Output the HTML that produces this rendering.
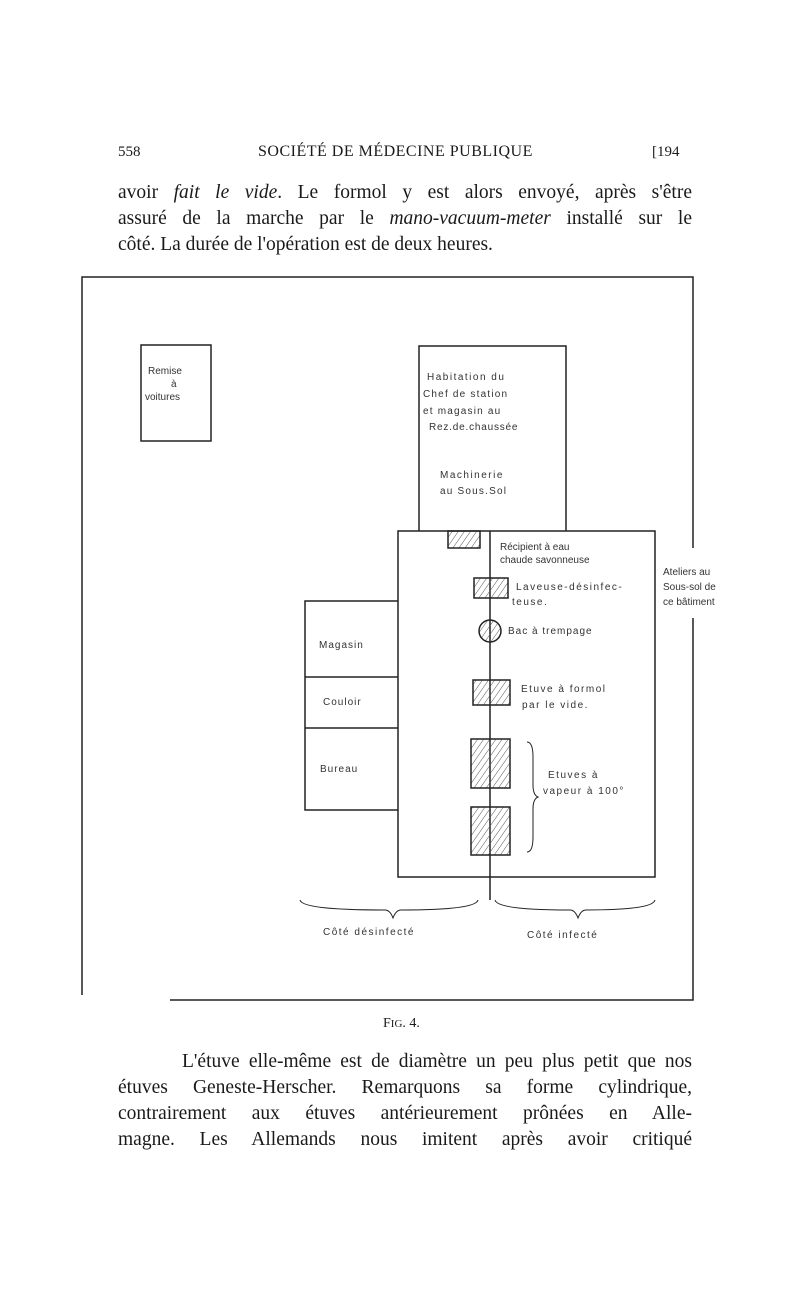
<!DOCTYPE html>
<html><head><meta charset="utf-8"><style>
html,body{margin:0;padding:0;background:#fff;}
body{width:800px;height:1304px;position:relative;overflow:hidden;font-family:"Liberation Serif",serif;color:#1a1a1a;}
.t{position:absolute;left:118px;width:574px;font-size:19.5px;line-height:26px;text-align:justify;text-align-last:justify;white-space:nowrap;}
.l{position:absolute;font-size:19.5px;}
svg{position:absolute;left:0;top:0;}
svg text{font-family:"Liberation Sans",sans-serif;font-size:10px;fill:#333;}
</style></head><body>
<div class="l" style="left:118px;top:144px;font-size:15px;">558</div>
<div class="l" style="left:258px;top:143px;font-size:16px;letter-spacing:0.5px;">SOCIÉTÉ DE MÉDECINE PUBLIQUE</div>
<div class="l" style="left:652px;top:144px;font-size:15px;">[194</div>
<div class="t" style="top:180px;">avoir <i>fait le vide</i>. Le formol y est alors envoyé, après s'être</div>
<div class="t" style="top:206px;">assuré de la marche par le <i>mano-vacuum-meter</i> installé sur le</div>
<div class="t" style="top:232px;text-align-last:left;">côté. La durée de l'opération est de deux heures.</div>
<svg width="800" height="1304" viewBox="0 0 800 1304">
<defs><pattern id="h" width="5" height="5" patternUnits="userSpaceOnUse" patternTransform="rotate(35)"><line x1="0" y1="0" x2="0" y2="5" stroke="#555" stroke-width="1"/></pattern></defs>
<g stroke="#222" fill="none" stroke-width="1.5">
<path d="M82 995 V277 H693 V548 M693 618 V1000 H170"/>
<rect x="141" y="345" width="70" height="96"/>
<path d="M419 531 V346 H566 V531"/>
<rect x="398" y="531" width="257" height="346"/>
<path d="M490 531 V900"/>
<path d="M398 601 H305 V810 H398 M305 677 H398 M305 728 H398"/>
<path d="M300 900 q2 10 85 10 q5 0 8 8 q3 -8 8 -8 q75 0 77 -10" stroke-width="1"/>
<path d="M495 900 q2 10 75 10 q5 0 8 8 q3 -8 8 -8 q67 0 69 -10" stroke-width="1"/>
<path d="M527 742 q6 0 6 15 v28 q0 10 5 12 q-5 2 -5 12 v28 q0 15 -6 15" stroke-width="1"/>
</g>
<g stroke="#222" stroke-width="1.5" fill="url(#h)">
<rect x="448" y="531" width="32" height="17"/>
<rect x="474" y="578" width="34" height="20"/>
<circle cx="490" cy="631" r="11"/>
<rect x="473" y="680" width="37" height="25"/>
<rect x="471" y="739" width="39" height="49"/>
<rect x="471" y="807" width="39" height="48"/>
</g>
<text x="148" y="374">Remise</text><text x="171" y="387">à</text><text x="145" y="400">voitures</text>
<text x="427" y="380" letter-spacing="1.5">Habitation du</text>
<text x="423" y="397" letter-spacing="1.2">Chef de station</text>
<text x="423" y="414" letter-spacing="1.2">et magasin au</text>
<text x="429" y="430" letter-spacing="0.8">Rez.de.chaussée</text>
<text x="440" y="478" letter-spacing="1.5">Machinerie</text>
<text x="440" y="494" letter-spacing="1.2">au Sous.Sol</text>
<text x="500" y="550">Récipient à eau</text>
<text x="500" y="563">chaude savonneuse</text>
<text x="516" y="590" letter-spacing="1.5">Laveuse-désinfec-</text>
<text x="512" y="605" letter-spacing="1.5">teuse.</text>
<text x="508" y="634" letter-spacing="1">Bac à trempage</text>
<text x="521" y="692" letter-spacing="1.5">Etuve à formol</text>
<text x="522" y="708" letter-spacing="1.5">par le vide.</text>
<text x="548" y="778" letter-spacing="1.5">Etuves à</text>
<text x="543" y="794" letter-spacing="1.5">vapeur à 100°</text>
<text x="319" y="648" letter-spacing="1">Magasin</text>
<text x="323" y="705" letter-spacing="1">Couloir</text>
<text x="320" y="772" letter-spacing="1">Bureau</text>
<text x="663" y="575" font-size="8">Ateliers au</text>
<text x="663" y="590" font-size="8">Sous-sol de</text>
<text x="663" y="605" font-size="8">ce bâtiment</text>
<text x="323" y="935" letter-spacing="1.5">Côté désinfecté</text>
<text x="527" y="938" letter-spacing="1.5">Côté infecté</text>
</svg>
<div class="l" style="left:383px;top:1016px;font-size:14px;">F<span style="font-size:11px">IG</span>. 4.</div>
<div class="t" style="top:1049px;text-indent:32px;width:542px;left:150px;">L'étuve elle-même est de diamètre un peu plus petit que nos</div>
<div class="t" style="top:1075px;">étuves Geneste-Herscher. Remarquons sa forme cylindrique,</div>
<div class="t" style="top:1101px;">contrairement aux étuves antérieurement prônées en Alle-</div>
<div class="t" style="top:1127px;">magne. Les Allemands nous imitent après avoir critiqué</div>
</body></html>
